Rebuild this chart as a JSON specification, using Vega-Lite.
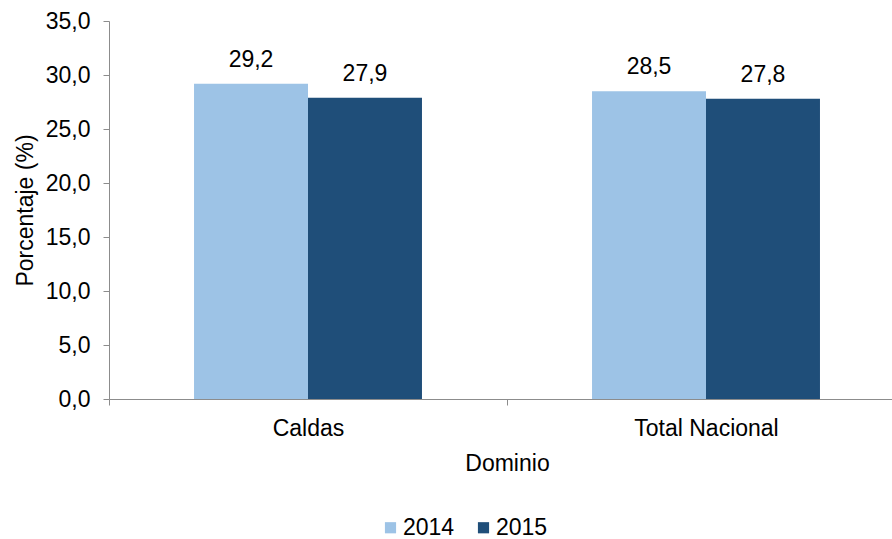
{
  "$schema": "https://vega.github.io/schema/vega-lite/v6.json",
  "autosize": {"type": "none"},
  "padding": {"left": 109, "top": 21, "right": 0, "bottom": 140},
  "width": 783,
  "height": 378,
  "background": "white",
  "config": {
    "view": {"stroke": null},
    "font": "Liberation Sans",
    "locale": {"number": {"decimal": ",", "thousands": ".", "grouping": [3], "currency": ["$", ""]}},
    "axis": {"labelFont": "Liberation Sans", "titleFont": "Liberation Sans", "labelColor": "#000000", "titleColor": "#000000", "titleFontWeight": "normal", "domainColor": "#8c8c8c", "tickColor": "#8c8c8c", "grid": false}
  },
  "data": {
    "values": [
      {"Dominio": "Caldas", "Año": "2014", "Valor": 29.2},
      {"Dominio": "Caldas", "Año": "2015", "Valor": 27.9},
      {"Dominio": "Total Nacional", "Año": "2014", "Valor": 28.5},
      {"Dominio": "Total Nacional", "Año": "2015", "Valor": 27.8}
    ]
  },
  "encoding": {
    "x": {
      "field": "Dominio", "type": "nominal", "sort": null,
      "scale": {"paddingInner": 0, "paddingOuter": 0, "range": [0, 796]},
      "axis": {"title": "Dominio", "labelAngle": 0, "labelFontSize": 23, "titleFontSize": 23, "tickBand": "extent", "tickSize": 6, "labelPadding": 12, "titlePadding": 12}
    },
    "xOffset": {"field": "Año", "type": "nominal", "scale": {"paddingInner": 0, "paddingOuter": 0.746}},
    "y": {
      "field": "Valor", "type": "quantitative",
      "scale": {"domain": [0, 35], "nice": false},
      "axis": {"title": "Porcentaje (%)", "values": [0, 5, 10, 15, 20, 25, 30, 35], "format": ".1f", "labelFontSize": 23, "titleFontSize": 23, "tickSize": 6, "labelPadding": 13, "titlePadding": 8}
    }
  },
  "layer": [
    {
      "mark": {"type": "bar"},
      "encoding": {
        "color": {
          "field": "Año", "type": "nominal",
          "scale": {"domain": ["2014", "2015"], "range": ["#9dc3e6", "#1f4e79"]},
          "legend": {"title": null, "orient": "none", "direction": "horizontal", "legendX": 270, "legendY": 495, "symbolType": "square", "symbolSize": 125, "symbolStrokeWidth": 0, "labelFontSize": 23, "labelColor": "#000000", "labelFont": "Liberation Sans", "columnPadding": 17, "labelOffset": 1}
        }
      }
    },
    {
      "mark": {"type": "text", "baseline": "alphabetic", "dy": -17, "fontSize": 23, "color": "#000000", "font": "Liberation Sans"},
      "encoding": {
        "text": {"field": "Valor", "type": "quantitative", "format": ".1f"}
      }
    }
  ]
}
